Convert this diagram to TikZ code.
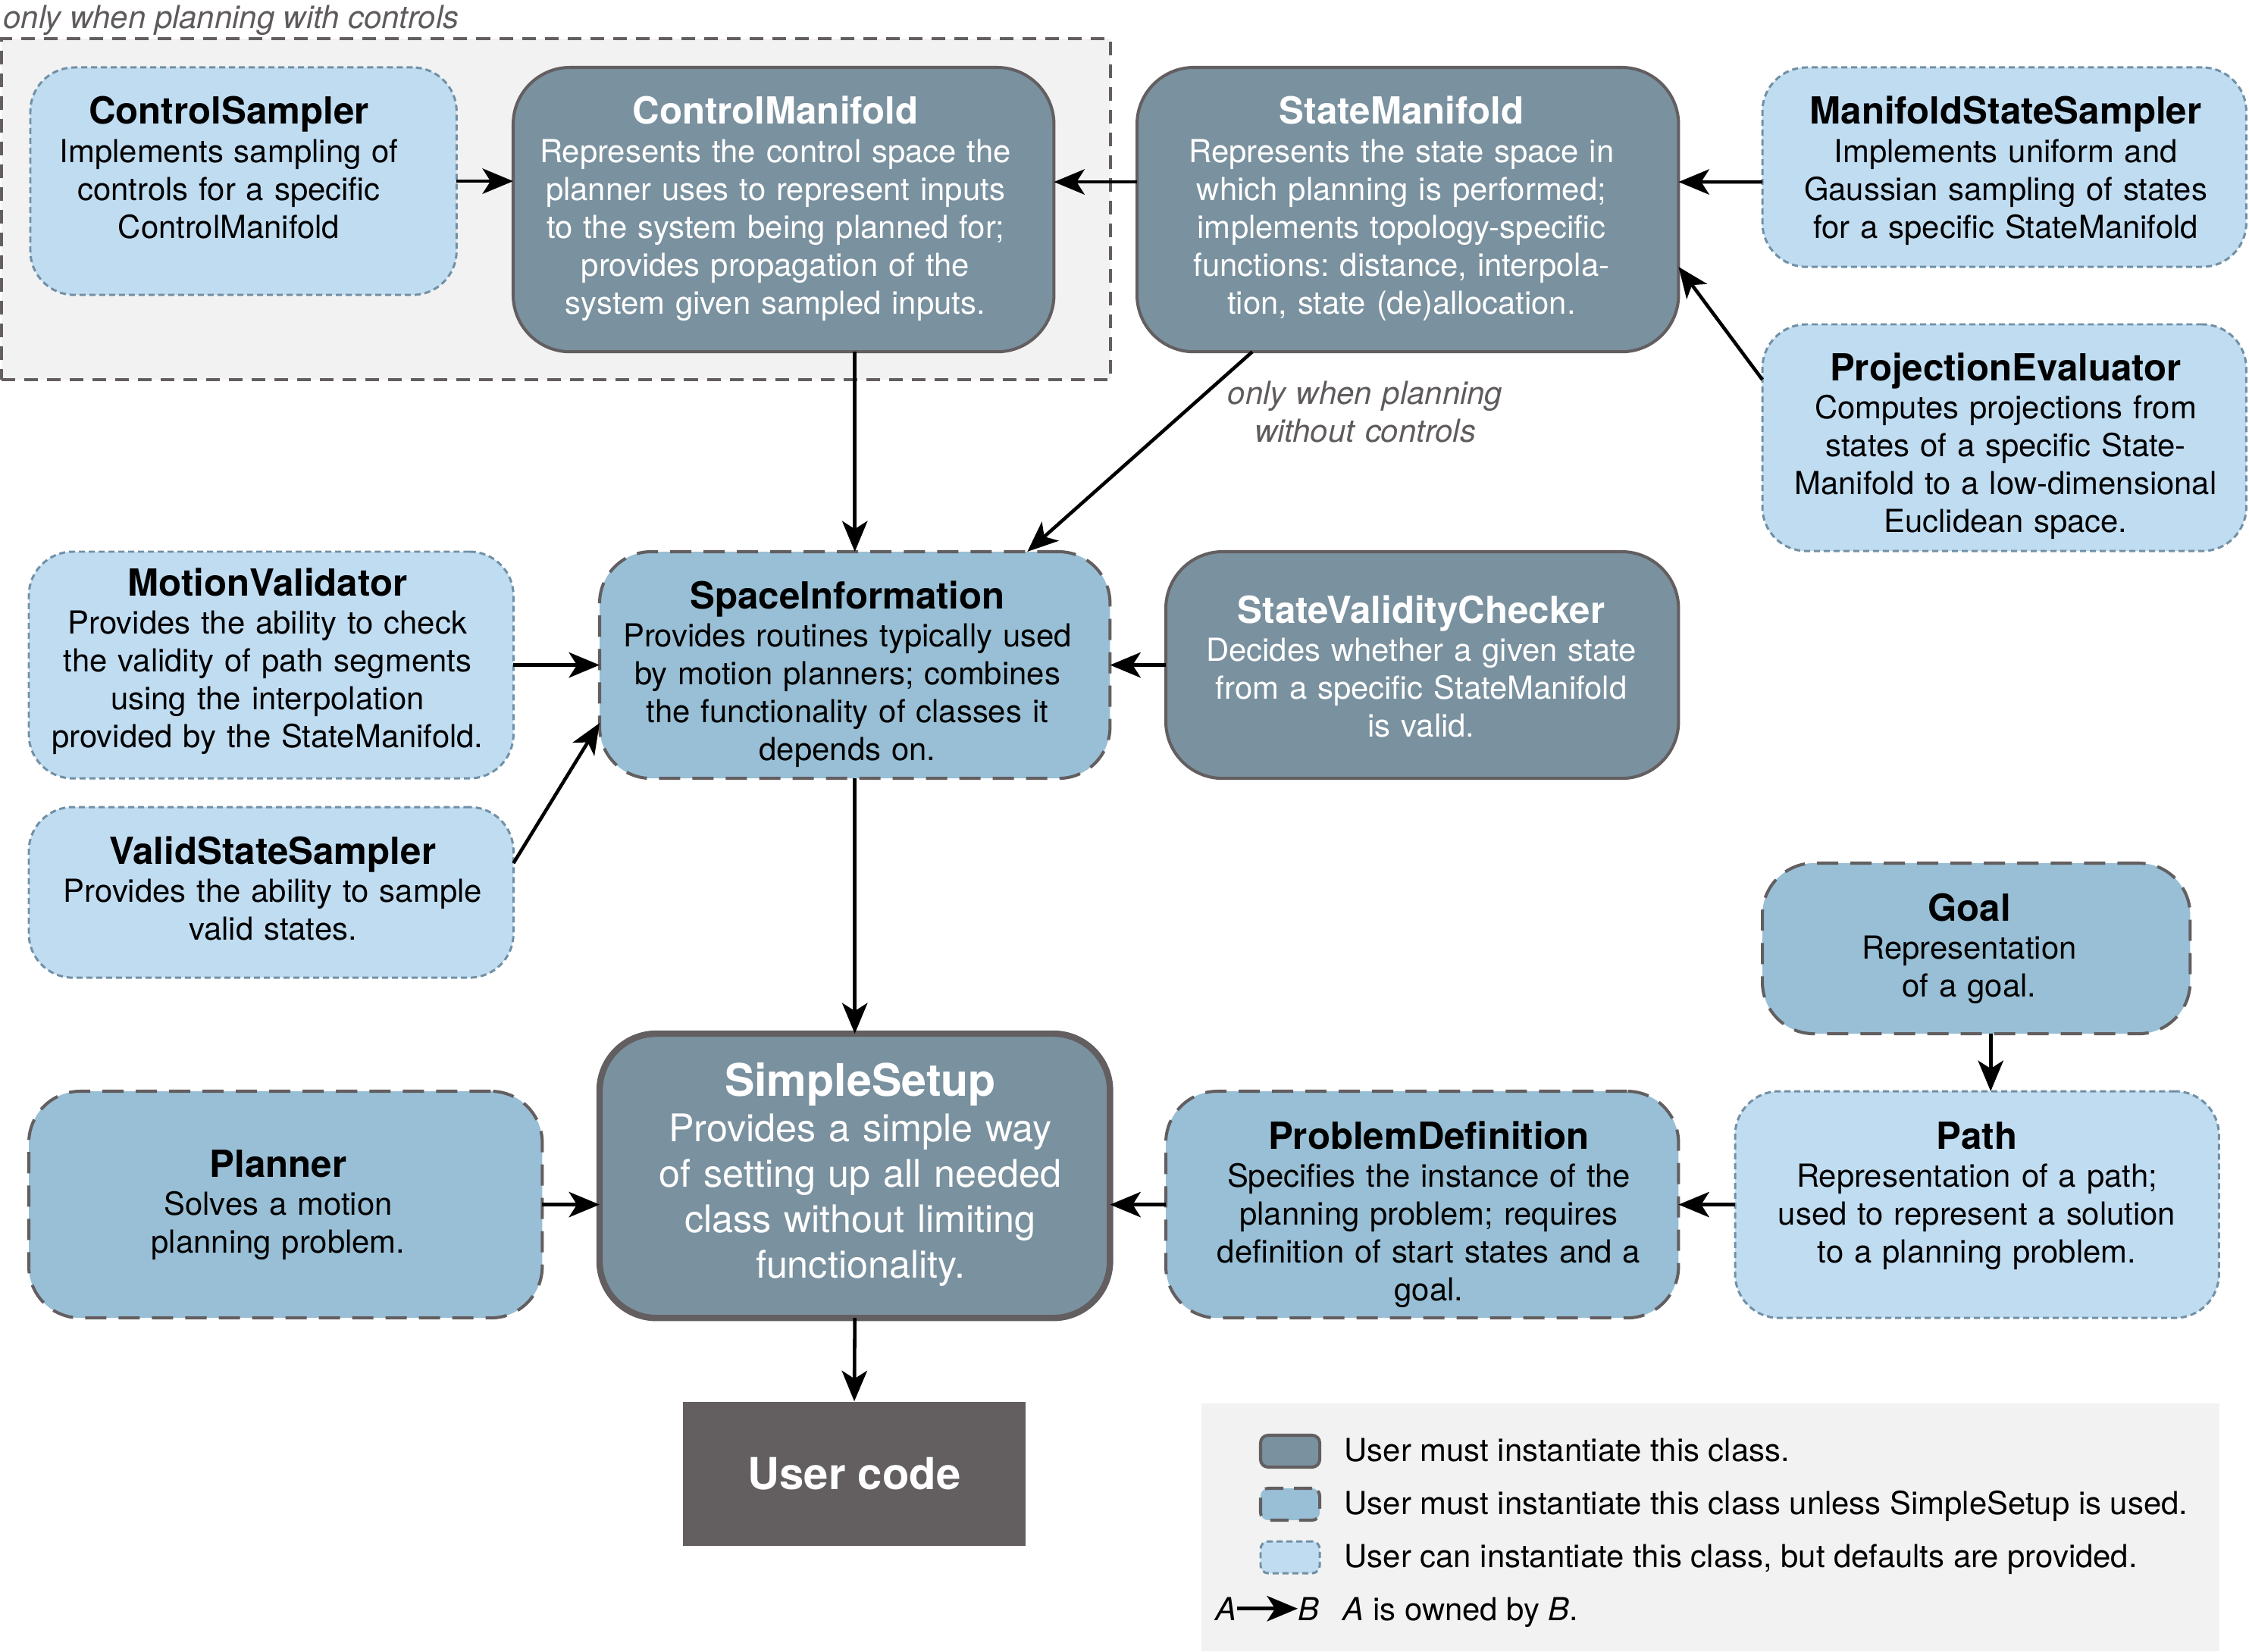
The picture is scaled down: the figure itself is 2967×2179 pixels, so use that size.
\documentclass[tikz,border=0pt]{standalone}
\usepackage{fontspec}
\setmainfont{TeX Gyre Heros}
\usetikzlibrary{arrows.meta,calc}

\definecolor{slate}{HTML}{7A919F}
\definecolor{midblue}{HTML}{98BFD5}
\definecolor{lightblue}{HTML}{C0DCF1}
\definecolor{edgegray}{HTML}{635E60}
\definecolor{dotedge}{HTML}{7190A6}
\definecolor{panelgray}{HTML}{F2F2F2}
\definecolor{usercode}{HTML}{635E60}
\definecolor{notegray}{HTML}{5F5B5D}

\newcommand\clsname[1]{{\fontsize{14}{14.23}\selectfont\bfseries #1}}
\newcommand\bigclsname[1]{{\fontsize{16.8}{17.07}\selectfont\bfseries #1}}

\tikzset{
  boxbase/.style={rectangle, inner sep=0pt, outer sep=0pt, anchor=north west},
  mustbox/.style={boxbase, fill=slate, draw=edgegray, line width=1.15pt, rounded corners=0.75cm},
  setupbox/.style={mustbox, line width=2.4pt},
  unlessbox/.style={boxbase, fill=midblue, draw=edgegray, line width=1.15pt,
    dash pattern=on 0.28cm off 0.16cm, rounded corners=0.68cm},
  canbox/.style={boxbase, fill=lightblue, draw=dotedge, line width=0.85pt,
    dash pattern=on 0.08cm off 0.05cm, rounded corners=0.58cm},
  ctrlpanel/.style={boxbase, fill=panelgray, draw=edgegray, line width=1.15pt,
    dash pattern=on 0.18cm off 0.12cm},
  body/.style={anchor=base, align=center, text width=8cm, inner sep=0pt, yshift=-0.03cm,
    font=\fontsize{11.9}{14.23}\selectfont\frenchspacing},
  bodylight/.style={body, text=black},
  bodydark/.style={body, text=white},
  bigbody/.style={body, text=white, font=\fontsize{14.3}{17.07}\selectfont\frenchspacing},
  note/.style={inner sep=0pt, text=notegray, font=\fontsize{11.9}{14.23}\selectfont\itshape},
  keytext/.style={anchor=base west, inner sep=0pt, font=\fontsize{11.9}{14.23}\selectfont},
  owns/.style={draw=black, line width=1.3pt, -{Stealth[length=11.5pt,width=9.5pt,inset=3pt]}},
  keyarrow/.style={draw=black, line width=1.45pt, -{Stealth[length=11.5pt,width=9.5pt,inset=3pt]}},
}

\begin{document}
\begin{tikzpicture}[x=0.01cm, y=-0.01cm]
\useasboundingbox (0,0) rectangle (2967,2179);

% panel holding the control-related classes
\node[ctrlpanel, minimum width=14.62cm, minimum height=4.5cm] (panel) at (2,51) {};
\node[note, anchor=base west] (panel-note) at (4,38) {only when planning with controls};

% top row
\node[canbox, minimum width=5.62cm, minimum height=3.0cm] (cs) at (40,89) {};
\node[bodylight] (cs-text) at (302,161)
  {\clsname{ControlSampler}\\Implements sampling of\\controls for a specific\\ControlManifold};

\node[mustbox, minimum width=7.13cm, minimum height=3.75cm] (cm) at (677,89) {};
\node[bodydark] (cm-text) at (1023,161)
  {\clsname{ControlManifold}\\Represents the control space the\\planner uses to represent inputs\\to the system being planned for;\\provides propagation of the\\system given sampled inputs.};

\node[mustbox, minimum width=7.14cm, minimum height=3.75cm] (sm) at (1500,89) {};
\node[bodydark] (sm-text) at (1849,161)
  {\clsname{StateManifold}\\Represents the state space in\\which planning is performed;\\implements topology-specific\\functions: distance, interpola-\\tion, state (de)allocation.};

\node[canbox, minimum width=6.38cm, minimum height=2.63cm] (mss) at (2325,89) {};
\node[bodylight] (mss-text) at (2646,161)
  {\clsname{ManifoldStateSampler}\\Implements uniform and\\Gaussian sampling of states\\for a specific StateManifold};

\node[canbox, minimum width=6.38cm, minimum height=2.99cm] (pe) at (2325,428) {};
\node[bodylight] (pe-text) at (2646,499)
  {\clsname{ProjectionEvaluator}\\Computes projections from\\states of a specific State-\\Manifold to a low-dimensional\\Euclidean space.};

\node[note, align=center, text width=5cm, anchor=base] (sm-note) at (1801,533)
  {only when planning\\without controls};

% middle row
\node[canbox, minimum width=6.39cm, minimum height=2.99cm] (mv) at (38,728) {};
\node[bodylight] (mv-text) at (353,783)
  {\clsname{MotionValidator}\\Provides the ability to check\\the validity of path segments\\using the interpolation\\provided by the StateManifold.};

\node[unlessbox, minimum width=6.73cm, minimum height=2.99cm] (si) at (791,728) {};
\node[bodylight] (si-text) at (1118,800)
  {\clsname{SpaceInformation}\\Provides routines typically used\\by motion planners; combines\\the functionality of classes it\\depends on.};

\node[mustbox, minimum width=6.76cm, minimum height=2.99cm] (svc) at (1538,728) {};
\node[bodydark] (svc-text) at (1875,819)
  {\clsname{StateValidityChecker}\\Decides whether a given state\\from a specific StateManifold\\is valid.};

\node[canbox, minimum width=6.39cm, minimum height=2.25cm] (vss) at (38,1065) {};
\node[bodylight] (vss-text) at (360,1137)
  {\clsname{ValidStateSampler}\\Provides the ability to sample\\valid states.};

% lower rows
\node[unlessbox, minimum width=5.64cm, minimum height=2.25cm] (goal) at (2325,1139) {};
\node[bodylight] (goal-text) at (2598,1212)
  {\clsname{Goal}\\Representation\\of a goal.};

\node[unlessbox, minimum width=6.77cm, minimum height=2.99cm] (pl) at (38,1440) {};
\node[bodylight] (pl-text) at (367,1550)
  {\clsname{Planner}\\Solves a motion\\planning problem.};

\node[setupbox, minimum width=6.73cm, minimum height=3.75cm] (ss) at (791,1364) {};
\node[bigbody] (ss-text) at (1135,1443)
  {\bigclsname{SimpleSetup}\\Provides a simple way\\of setting up all needed\\class without limiting\\functionality.};

\node[unlessbox, minimum width=6.76cm, minimum height=2.99cm] (pd) at (1538,1440) {};
\node[bodylight] (pd-text) at (1885,1513)
  {\clsname{ProblemDefinition}\\Specifies the instance of the\\planning problem; requires\\definition of start states and a\\goal.};

\node[canbox, minimum width=6.38cm, minimum height=2.99cm] (path) at (2289,1440) {};
\node[bodylight] (path-text) at (2608,1513)
  {\clsname{Path}\\Representation of a path;\\used to represent a solution\\to a planning problem.};

\node[fill=usercode, inner sep=0pt, minimum width=4.52cm, minimum height=1.9cm,
      text=white, font=\fontsize{16.5}{18}\selectfont\bfseries] (uc) at (1127,1945) {User code};

% ownership arrows
\draw[owns] (cs.east) -- (cs.east -| cm.west);
\draw[owns] ([yshift=0.365cm]sm.west) -- ([yshift=0.365cm]cm.east);
\draw[owns] ([yshift=-0.195cm]mss.west) -- ([yshift=0.365cm]sm.east);
\draw[owns] ([yshift=0.765cm]pe.west) -- ([yshift=-0.755cm]sm.east);
\draw[owns] (cm.south -| si.north) -- (si.north);
\draw[owns] ([xshift=-2.05cm]sm.south) -- ([xshift=2.275cm]si.north);
\draw[owns] (mv.east) -- (si.west);
\draw[owns] ([yshift=0.385cm]vss.east) -- ([yshift=-0.765cm]si.west);
\draw[owns] (svc.west) -- (si.east);
\draw[owns] (si.south) -- (ss.north);
\draw[owns] (pl.east) -- (pl.east -| ss.west);
\draw[owns] (pd.west) -- (pd.west -| ss.east);
\draw[owns] (path.west) -- (pd.east);
\draw[owns] ([xshift=0.19cm]goal.south) -- ([xshift=0.19cm]goal.south |- path.north);
\draw[owns] (ss.south) -- (uc.north);

% legend
\node[boxbase, fill=panelgray, minimum width=13.42cm, minimum height=3.27cm] (legend) at (1585,1852) {};
\node[mustbox, anchor=center, rounded corners=0.1cm, minimum width=0.78cm, minimum height=0.42cm] (key-must) at (1702,1915) {};
\node[unlessbox, anchor=center, rounded corners=0.1cm, dash pattern=on 0.24cm off 0.14cm, minimum width=0.78cm, minimum height=0.42cm] (key-unless) at (1702,1985) {};
\node[canbox, anchor=center, rounded corners=0.1cm, minimum width=0.78cm, minimum height=0.42cm] (key-can) at (1702,2055) {};
\node[keytext] (key-must-text) at (1773,1928) {User must instantiate this class.};
\node[keytext] (key-unless-text) at (1773,1998) {User must instantiate this class unless SimpleSetup is used.};
\node[keytext] (key-can-text) at (1773,2068) {User can instantiate this class, but defaults are provided.};
\node[keytext, anchor=base east, font=\fontsize{11.9}{14.23}\selectfont\itshape] (key-a) at (1632,2138) {A};
\node[keytext, font=\fontsize{11.9}{14.23}\selectfont\itshape] (key-b) at (1712,2138) {B};
\draw[keyarrow] (key-a) -- (key-b);
\node[keytext] (key-own-text) at (1771,2138) {\textit{A} is owned by \textit{B}.};
\end{tikzpicture}
\end{document}
